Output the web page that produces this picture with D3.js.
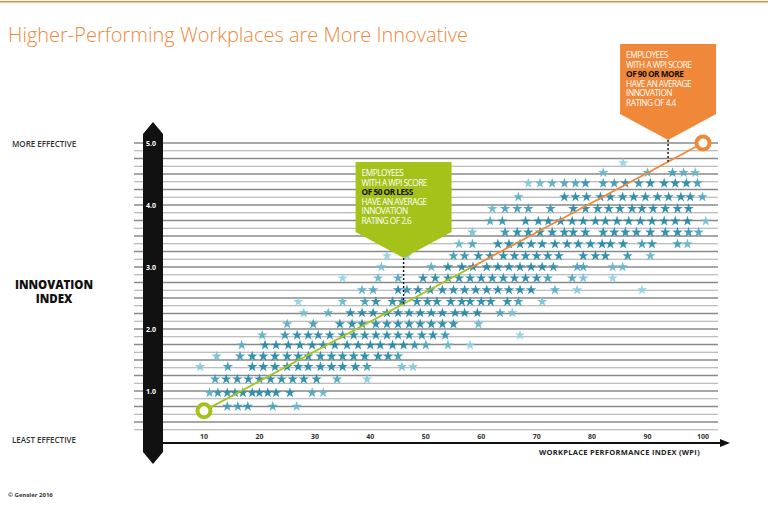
<!DOCTYPE html><html><head><meta charset="utf-8">
<script src="https://cdn.jsdelivr.net/npm/d3@7/dist/d3.min.js"></script>
<style>body{margin:0;background:#fff;font-family:"Open Sans",sans-serif}</style></head><body>
<script>
const rowLevels=[0.75,0.97,1.19,1.39,1.56,1.74,1.9,2.08,2.26,2.44,2.63,2.82,3.0,3.18,3.37,3.56,3.74,3.94,4.13,4.35,4.52,4.68];
const rowWpi=[
[14.2,16.1,17.9,22.4,26.7],
[11,12.5,14.2,15.6,17,18.7,20,21.5,23,25.5,29.5,31.5],
[12,14,16,18,20,22,24,26,28,30.3,34,39.4],
[9.3,14.3,18.7,20.7,22.8,25,27,28.8,31,33,35,37.3,39.4,45.7,47.7],
[12.3,16.5,18.7,20.7,22.8,25,27,28.8,31,33,35,37,39,41.4,43.2,45],
[16.8,21,23,25.2,27.3,29.5,31.5,33.6,35.8,37.8,40,41.8,44,46,48,50,54,58],
[20.5,24.6,26.8,28.8,30.6,32.7,35,37,39,41,43,45,47,49.3,51.3,53.5,67],
[25,29.7,34.5,36.7,38.5,41,43,45,47,49,51,53,55,59.5],
[28,32.4,36.4,38.5,40.5,43,45,47,49,51,53,55.3,57,59.3,63.4,65.6],
[27,35,39,41,44,45.7,48.4,50.3,52,54.5,56.5,58,60,61.7,64.7,66.7,71],
[38.5,40.5,45,46.6,48.6,50.8,53,55,57,59,61,63,65,67,69,73.3,77.3,89],
[35,41.4,45,49.5,51.7,54,56,58,60,62,64,66,68,70,72,76.4,78.4,83.7],
[42,51,54,56.5,58.5,61,63,65,67,69,71,73,77.3,78.4,83.7,85.5],
[43,46.6,55,57,59.5,61.6,64,66,68,70,72,74,78.4,80.6,82.4,86.4,90.5],
[56,58.4,63,65,67,69,71,73.3,75.5,77.5,79.7,81.8,83.3,85.6,89,90.8,95.4,97.2],
[58.4,64.3,66.5,68.5,70.6,72.8,75,76.6,78.8,82,84,86,88,90.5,93.2,95.4,97.4,99.2],
[61.6,63.8,68,70.3,72.1,74.3,76.4,78.4,80.6,82.4,84.5,86.6,88.7,90.8,93,95,97.2,100.5],
[62,64.3,66.5,68.5,72.5,76.6,78.8,81,83,85,87.2,89,91,93.2,95.4,97.4],
[66.7,75,77,79,81.5,83.3,85.5,87.5,89.6,91.8,93.8,96,97.7,99.9],
[68.5,70.6,72.8,75,77,78.8,82,84,86,88.4,90.5,93,95,97,99],
[82,90,94.5,96.5,98.6],
[85.6]
];
const yTicks=[1,2,3,4,5];
const xTicks=[10,20,30,40,50,60,70,80,90,100];
const trendStart=[10,0.68], trendMid=[58,3.0], trendEnd=[100,5.0];
const calloutLow={wpi:46,lines:["EMPLOYEES","WITH A WPI SCORE","OF 50 OR LESS","HAVE AN AVERAGE","INNOVATION","RATING OF 2.6"]};
const calloutHigh={wpi:93.7,lines:["EMPLOYEES","WITH A WPI SCORE","OF 90 OR MORE","HAVE AN AVERAGE","INNOVATION","RATING OF 4.4"]};

const W=768,H=523;
const svg=d3.select("body").append("svg").attr("width",W).attr("height",H);
const x=d3.scaleLinear().domain([10,100]).range([204,703]);
const y=d3.scaleLinear().domain([0,5]).range([453,143]);
const orange="#f0883a", green="#a5c21a";

svg.append("rect").attr("x",0).attr("y",1).attr("width",W).attr("height",1.5).attr("fill",orange);
svg.append("text").attr("x",8).attr("y",42).attr("fill",orange).attr("font-size",20).attr("font-weight",300).text("Higher-Performing Workplaces are More Innovative");

const grid=d3.range(3,41).map(i=>i*0.125);
svg.append("g").selectAll("line").data(grid).join("line")
 .attr("x1",134).attr("x2",718).attr("y1",d=>y(d)).attr("y2",d=>y(d))
 .attr("stroke",(d,i)=>i%2?"#8a8a8a":"#a8a8a8").attr("stroke-width",(d,i)=>i%2?1.6:1.1);

const pts=[];rowLevels.forEach((v,i)=>rowWpi[i].forEach(w=>pts.push({w,v})));
pts.forEach(p=>{p.n=pts.filter(q=>Math.abs(q.v-p.v)<0.25&&Math.abs(q.w-p.w)<5).length;});
const col=d3.scaleLinear().domain([3,11]).range(["#8fd2e4","#1f86a5"]).clamp(true);
svg.append("g").selectAll("path").data(pts).join("path")
 .attr("d",d3.symbol(d3.symbolStar,34)).attr("transform",d=>`translate(${x(d.w)},${y(d.v)})`)
 .attr("fill",d=>col(d.n)).attr("opacity",0.9);

const line=d3.line().x(d=>x(d[0])).y(d=>y(d[1]));
const tl=t=>[trendStart[0]+(trendEnd[0]-trendStart[0])*t,trendStart[1]+(trendEnd[1]-trendStart[1])*t];
const split=(trendMid[0]-trendStart[0])/(trendEnd[0]-trendStart[0]);
svg.append("path").attr("d",line([trendStart,tl(split)])).attr("stroke",green).attr("stroke-width",1.8).attr("fill","none");
svg.append("path").attr("d",line([tl(split),trendEnd])).attr("stroke",orange).attr("stroke-width",1.8).attr("fill","none");
svg.append("circle").attr("cx",x(trendStart[0])).attr("cy",y(trendStart[1])).attr("r",6.5).attr("fill","#fff").attr("stroke",green).attr("stroke-width",4);
svg.append("circle").attr("cx",x(trendEnd[0])).attr("cy",y(trendEnd[1])).attr("r",6.5).attr("fill","#fff").attr("stroke",orange).attr("stroke-width",4);

function callout(c,color,top,boxH){
 const cx=x(c.wpi), bw=96, bx=cx-48, tipY=top+boxH+26;
 const ty=trendStart[1]+(trendEnd[1]-trendStart[1])*(c.wpi-trendStart[0])/(trendEnd[0]-trendStart[0]);
 svg.append("line").attr("x1",cx).attr("x2",cx).attr("y1",tipY).attr("y2",y(ty)).attr("stroke","#111").attr("stroke-width",1.4).attr("stroke-dasharray","2,2");
 svg.append("path").attr("d",`M${bx},${top}H${bx+bw}V${top+boxH}L${cx},${tipY}L${bx},${top+boxH}Z`).attr("fill",color);
 c.lines.forEach((t,i)=>svg.append("text").attr("x",bx+6).attr("y",top+14+i*9.6).attr("font-size",8.3)
   .attr("fill",i==2?"#111":"#fff").attr("font-weight",i==2?700:400).attr("letter-spacing",-0.5).text(t));
}
callout(calloutLow,green,162,70);
callout(calloutHigh,orange,44,70);

svg.append("path").attr("d","M143,134 L153,122 L163,134 V452 L153,464 L143,452 Z").attr("fill","#111");
svg.append("g").selectAll("text").data(yTicks).join("text").attr("x",146).attr("y",d=>y(d)+3).attr("fill","#fff").attr("font-size",7).attr("font-weight",700).text(d=>d.toFixed(1));
svg.append("line").attr("x1",163).attr("x2",722).attr("y1",443).attr("y2",443).attr("stroke","#111").attr("stroke-width",2);
svg.append("path").attr("d","M720,439 L730,443 L720,447 Z").attr("fill","#111");
svg.append("g").selectAll("text").data(xTicks).join("text").attr("x",d=>x(d)).attr("y",439).attr("text-anchor","middle").attr("font-size",7).attr("font-weight",700).attr("fill","#333").text(d=>d);
svg.append("text").attr("x",700).attr("y",455).attr("text-anchor","end").attr("font-size",7.5).attr("font-weight",700).attr("fill","#222").attr("letter-spacing",0.3).text("WORKPLACE PERFORMANCE INDEX (WPI)");

svg.append("text").attr("x",12).attr("y",147).attr("font-size",8).attr("font-weight",600).attr("fill","#333").text("MORE EFFECTIVE");
svg.append("text").attr("x",12).attr("y",443).attr("font-size",8).attr("font-weight",600).attr("fill","#333").text("LEAST EFFECTIVE");
svg.append("text").attr("x",54).attr("y",289).attr("text-anchor","middle").attr("font-size",11.5).attr("font-weight",800).attr("fill","#111").text("INNOVATION");
svg.append("text").attr("x",54).attr("y",303).attr("text-anchor","middle").attr("font-size",11.5).attr("font-weight",800).attr("fill","#111").text("INDEX");
svg.append("text").attr("x",8).attr("y",497).attr("font-size",6).attr("font-weight",700).attr("fill","#333").text("© Gensler 2016");
</script></body></html>
